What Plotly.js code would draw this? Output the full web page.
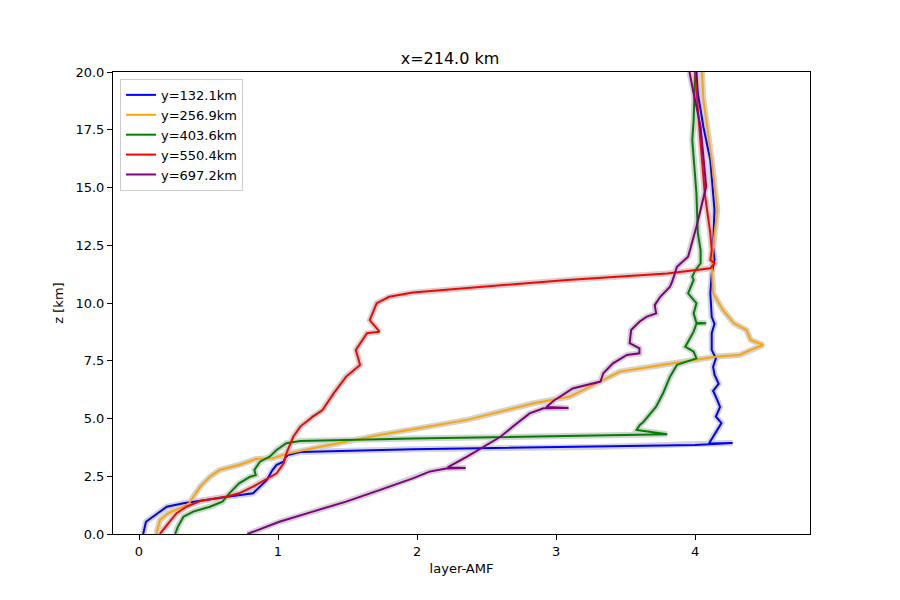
<!DOCTYPE html>
<html><head><meta charset="utf-8">
<script src="https://cdn.plot.ly/plotly-3.0.1.min.js"></script>
<style>html,body{margin:0;padding:0;background:#fff}</style>
</head><body><div id="chart" style="width:900px;height:600px"></div>
<script>
const names = ["y=132.1km","y=256.9km","y=403.6km","y=550.4km","y=697.2km"];
const colors = ["blue","orange","green","red","purple"];

const blueX = [0.03,0.05,0.20,0.32,0.65,0.82,0.87,0.92,0.96,0.99,1.04,1.05,1.07,1.16,1.97,3.3,4.0,4.27,4.10,4.13,4.16,4.19,4.15,4.18,4.16,4.13,4.17,4.14,4.13,4.15,4.12,4.12,4.14,4.12,4.11,4.12,4.14,4.13,4.14,4.11,4.06,4.02,4.01];
const blueZ = [0,0.53,1.18,1.33,1.62,1.76,2.05,2.34,2.77,2.99,3.13,3.28,3.42,3.55,3.67,3.77,3.85,3.94,3.92,4.21,4.5,4.8,5.08,5.5,5.8,6.2,6.5,6.9,7.24,7.6,7.97,8.69,9.1,9.4,10.42,11.28,11.86,12.44,14.03,16.19,17.63,19.08,20];

const orangeX = [0.125,0.15,0.21,0.29,0.36,0.44,0.51,0.58,0.72,0.84,0.96,1.08,1.25,1.49,1.73,1.97,2.36,2.84,3.1,3.34,3.46,3.68,3.92,4.16,4.32,4.40,4.49,4.40,4.37,4.28,4.20,4.13,4.12,4.13,4.16,4.12,4.06,4.05];
const orangeZ = [0,0.6,0.9,1.11,1.33,2.05,2.48,2.77,2.99,3.25,3.28,3.49,3.71,4.0,4.29,4.53,4.94,5.66,5.95,6.67,7.03,7.24,7.46,7.68,7.75,7.97,8.18,8.4,8.83,9.12,9.7,10.42,11.57,12.44,14.03,16.19,18.8,20];

const greenX = [0.26,0.28,0.32,0.39,0.51,0.60,0.65,0.72,0.80,0.84,0.83,0.87,0.94,0.99,1.06,1.16,1.97,3.80,3.58,3.60,3.63,3.72,3.77,3.82,3.87,4.01,3.99,3.93,3.99,4.01,4.08,4.01,3.99,4.01,3.95,3.99,3.98,4.0,4.04,4.04,4.02,4.01,3.98,3.99,4.0];
const greenZ = [0,0.32,0.75,0.97,1.18,1.40,1.76,2.19,2.48,2.55,2.77,3.13,3.35,3.64,3.93,4.03,4.13,4.32,4.5,4.7,4.86,5.51,6.09,6.81,7.32,7.6,7.89,8.11,8.76,9.1,9.12,9.14,9.55,9.99,10.42,11.0,11.14,11.4,11.72,12.29,13.02,14.75,17.06,17.92,20];

const redX = [0.15,0.21,0.27,0.34,0.44,0.63,0.72,0.82,0.92,0.99,1.04,1.06,1.11,1.16,1.25,1.32,1.40,1.49,1.59,1.56,1.64,1.73,1.66,1.71,1.80,1.97,3.08,3.80,4.11,4.14,4.11,4.12,4.11,4.07,4.04,4.01,4.0];
const redZ = [0,0.46,0.9,1.18,1.43,1.62,1.76,2.05,2.41,2.63,3.06,3.49,4.21,4.65,5.08,5.37,6.09,6.81,7.32,7.97,8.69,8.76,9.26,9.99,10.27,10.45,11.0,11.28,11.5,11.72,11.86,12.29,13.0,14.75,16.9,19.08,20];

const purpleX = [0.78,1.01,1.25,1.49,1.73,1.97,2.09,2.21,2.35,2.22,2.36,2.48,2.6,2.69,2.81,2.91,3.09,2.93,2.99,3.03,3.12,3.32,3.34,3.41,3.51,3.60,3.60,3.53,3.54,3.60,3.65,3.72,3.71,3.75,3.82,3.84,3.87,3.95,4.01,4.08,4.04,3.99,3.96];
const purpleZ = [0,0.53,0.97,1.40,1.9,2.41,2.7,2.84,2.86,2.88,3.35,3.78,4.21,4.65,5.22,5.44,5.45,5.5,5.8,5.95,6.3,6.6,6.96,7.39,7.75,7.82,8.04,8.26,8.83,9.19,9.4,9.55,9.91,10.27,10.71,11.0,11.57,12.0,13.3,15.04,17.63,19.08,20];

const xs = [blueX, orangeX, greenX, redX, purpleX];
const zs = [blueZ, orangeZ, greenZ, redZ, purpleZ];

const traces = [];
for (let i = 0; i < 5; i++) {
  traces.push({x: xs[i], y: zs[i], mode: 'lines', line: {color: 'lightgray', width: 6},
    showlegend: false, hoverinfo: 'skip'});
}
for (let i = 0; i < 5; i++) {
  traces.push({x: xs[i], y: zs[i], mode: 'lines', name: names[i],
    line: {color: colors[i], width: 2}});
}

const axisCommon = {showline: true, mirror: true, linecolor: 'black', linewidth: 1,
  ticks: 'outside', ticklen: 5, tickcolor: 'black', showgrid: false, zeroline: false,
  tickfont: {size: 13, color: 'black'}};

const layout = {
  width: 900, height: 600,
  margin: {l: 113, r: 90, t: 72, b: 66},
  paper_bgcolor: 'white', plot_bgcolor: 'white',
  font: {family: 'DejaVu Sans', color: 'black'},
  title: {text: 'x=214.0 km', x: 0.5, xanchor: 'center', y: 0.893, yanchor: 'bottom', font: {size: 16}},
  xaxis: Object.assign({}, axisCommon, {range: [-0.187, 4.827], dtick: 1, tick0: 0,
    title: {text: 'layer-AMF', font: {size: 13}, standoff: 6}}),
  yaxis: Object.assign({}, axisCommon, {range: [0, 20], dtick: 2.5, tick0: 0, tickformat: '.1f',
    title: {text: 'z [km]', font: {size: 13}, standoff: 8}}),
  legend: {x: 0.01, y: 0.985, xanchor: 'left', yanchor: 'top', bgcolor: 'rgba(255,255,255,0.8)',
    bordercolor: '#cccccc', borderwidth: 1, font: {size: 13}, tracegroupgap: 0}
};
Plotly.newPlot('chart', traces, layout, {staticPlot: true});
</script></body></html>
